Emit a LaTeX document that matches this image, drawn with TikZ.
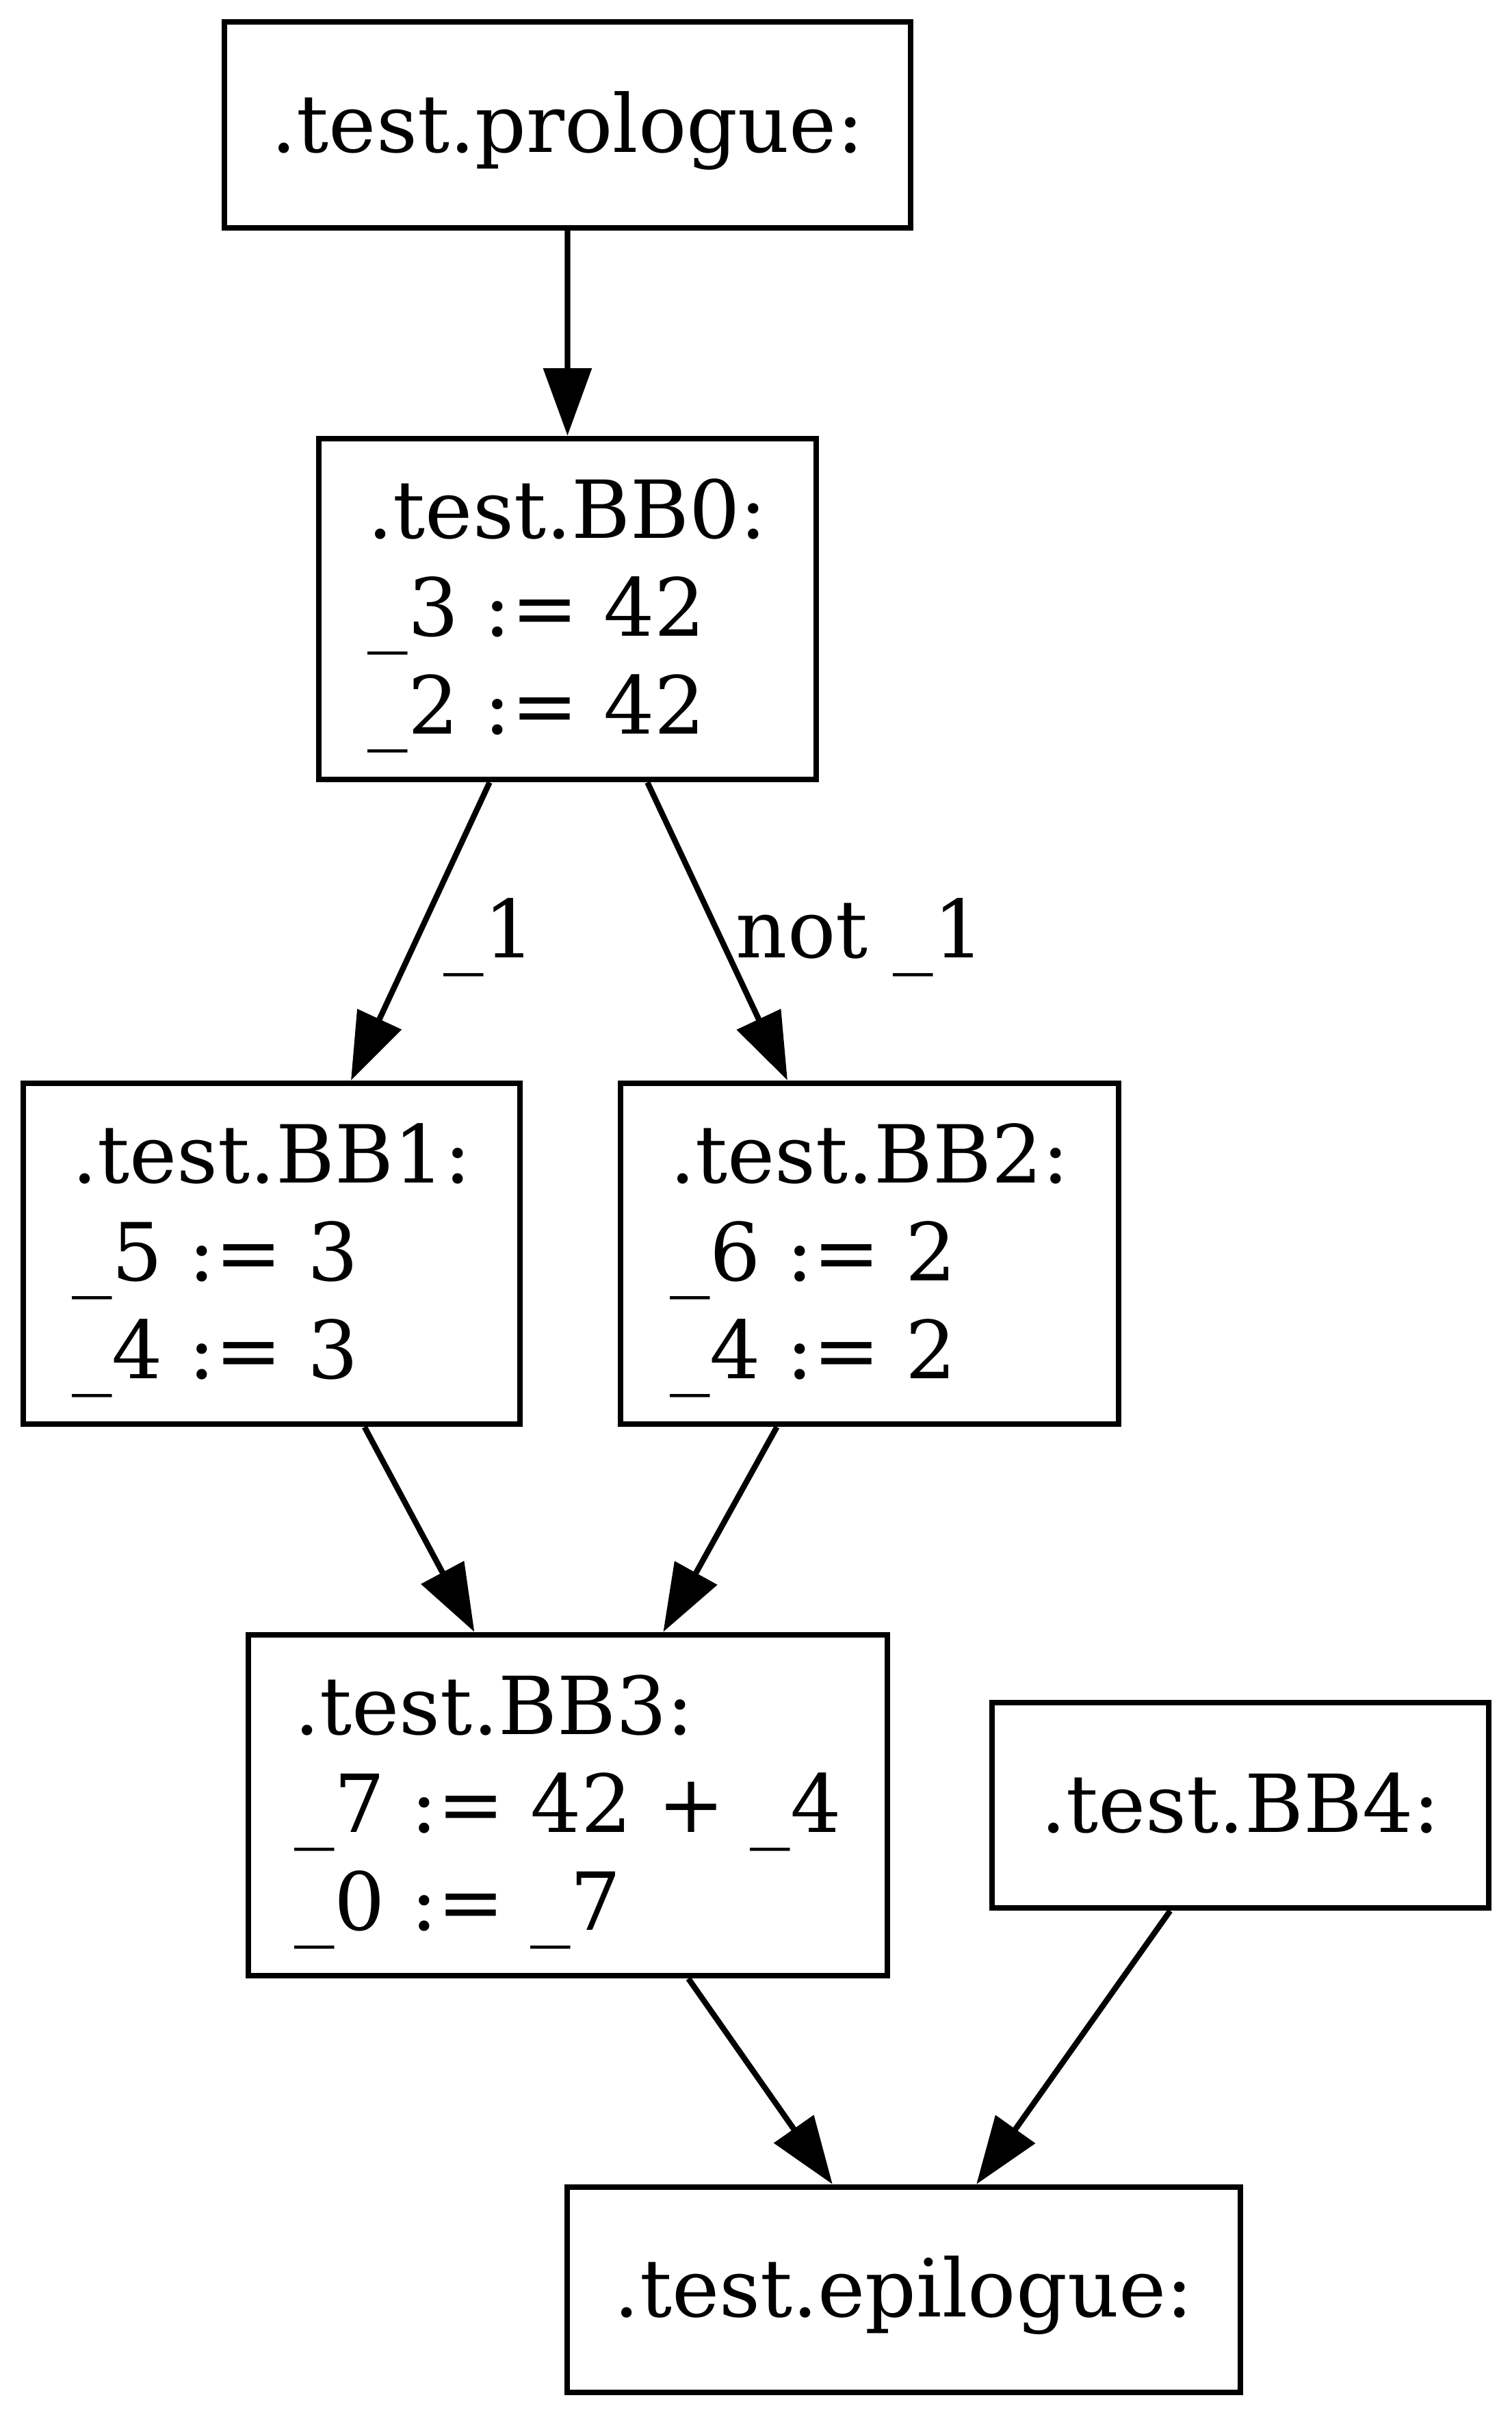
\documentclass[tikz,border=0pt]{standalone}
\usepackage{fontspec}
\setmainfont{DejaVu Serif}
\usetikzlibrary{arrows.meta,calc}

\newcommand{\bstrut}{\rule[-5.13pt]{0pt}{19.8pt}}

\tikzset{
  block/.style={draw, line width=1pt, align=left, inner sep=0pt,
    font=\fontsize{14pt}{17.1pt}\selectfont,
    execute at begin node=\bstrut, execute at end node=\bstrut},
  edge/.style={line width=1pt, -{Triangle[length=11.8pt,width=8.3pt]}},
  lbl/.style={anchor=base west, inner sep=0pt,
    font=\fontsize{14pt}{17.1pt}\selectfont}
}

\begin{document}
\begin{tikzpicture}[x=1pt,y=-1pt] % control flow graph of .test
  \useasboundingbox (0,0) rectangle (264.35,422.13);
  \node[block, minimum width=120pt, minimum height=36pt] (pro) at (99.22,21.83) {.test.prologue:};
  \node[block, minimum width=86.9pt, minimum height=59.6pt] (bb0) at (99.22,106.46)
    {\bstrut.test.BB0:\\\_3 := 42\\\_2 := 42};
  \node[block, minimum width=86.8pt, minimum height=59.6pt] (bb1) at (47.49,219.14)
    {\bstrut.test.BB1:\\\_5 := 3\\\_4 := 3};
  \node[block, minimum width=87.1pt, minimum height=59.6pt] (bb2) at (152.03,219.14)
    {\bstrut.test.BB2:\\\_6 := 2\\\_4 := 2};
  \node[block, minimum width=111.7pt, minimum height=59.6pt] (bb3) at (99.28,315.55)
    {\bstrut.test.BB3:\\\_7 := 42 + \_4\\\_0 := \_7};
  \node[block, minimum width=86.8pt, minimum height=35.9pt] (bb4) at (216.87,315.55) {.test.BB4:};
  \node[block, minimum width=117.7pt, minimum height=35.9pt] (epi) at (158.01,400.24) {.test.epilogue:};
  \foreach \src/\a/\dst/\b in {pro/0.5/bb0/0.5, bb0/0.345/bb1/0.658, bb0/0.659/bb2/0.337,
      bb1/0.685/bb3/0.355, bb2/0.316/bb3/0.648, bb3/0.687/epi/0.395, bb4/0.36/epi/0.607}
  {
    \draw[edge] ($(\src.south west)!\a!(\src.south east)$) -- ($(\dst.north west)!\b!(\dst.north east)$);
  };
  \node[lbl] (cond) at (77.39,167.46) {\_1};
  \node[lbl] (notcond) at (128.47,167.46) {not \_1};
\end{tikzpicture}
\end{document}
